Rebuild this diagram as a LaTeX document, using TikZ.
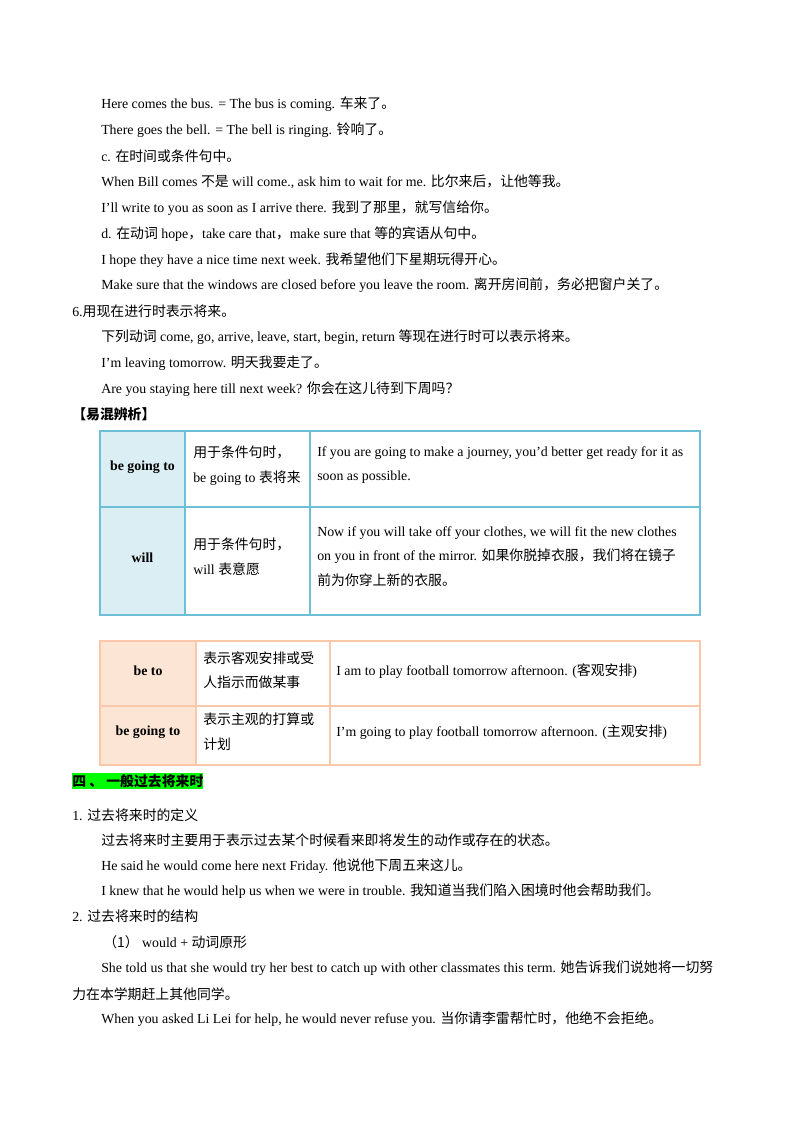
\documentclass[tikz,border=0pt]{standalone}
\usepackage{fontspec}
\setmainfont{Liberation Serif}
\newfontfamily\cjk{Noto Sans CJK SC}
\definecolor{blueline}{RGB}{110,190,215}
\definecolor{bluefill}{RGB}{219,238,243}
\definecolor{orangeline}{RGB}{250,200,168}
\definecolor{orangefill}{RGB}{252,229,213}
\definecolor{hl}{RGB}{0,255,0}
\begin{document}
\begin{tikzpicture}[x=0.75pt,y=-0.75pt,
    txt/.style={anchor=west,inner sep=0pt,font=\fontsize{10.4}{12}\selectfont},
    cell/.style={anchor=north west,inner sep=0pt,align=flush left,
      font=\fontsize{10.4}{18.5}\selectfont},
    head/.style={inner sep=0pt,font=\fontsize{10.4}{12}\selectfont\bfseries}]
        %--- Page ---
        \useasboundingbox (0,0) rectangle (800,1132);
        %--- Lines above the tables ---
        \node [txt] (l1) at (101,104) {Here comes the bus. = The bus is coming. {\cjk 车来了。}};
        \node [txt] (l2) at (101,130) {There goes the bell. = The bell is ringing. {\cjk 铃响了。}};
        \node [txt] (l3) at (101,156) {c. {\cjk 在时间或条件句中。}};
        \node [txt] (l4) at (101,182) {When Bill comes {\cjk 不是} will come., ask him to wait for me. {\cjk 比尔来后，让他等我。}};
        \node [txt] (l5) at (101,208) {I'll write to you as soon as I arrive there. {\cjk 我到了那里，就写信给你。}};
        \node [txt] (l6) at (101,234) {d. {\cjk 在动词} hope{\cjk ，}take care that{\cjk ，}make sure that {\cjk 等的宾语从句中。}};
        \node [txt] (l7) at (101,260) {I hope they have a nice time next week. {\cjk 我希望他们下星期玩得开心。}};
        \node [txt] (l8) at (101,285) {Make sure that the windows are closed before you leave the room. {\cjk 离开房间前，务必把窗户关了。}};
        \node [txt] (l9) at (72,311) {6.{\cjk 用现在进行时表示将来。}};
        \node [txt] (l10) at (101,337) {{\cjk 下列动词} come, go, arrive, leave, start, begin, return {\cjk 等现在进行时可以表示将来。}};
        \node [txt] (l11) at (101,363) {I'm leaving tomorrow. {\cjk 明天我要走了。}};
        \node [txt] (l12) at (101,389) {Are you staying here till next week? {\cjk 你会在这儿待到下周吗？}};
        \node [txt] (l13) at (72,414) {{\cjk\bfseries 【易混辨析】}};
        %--- Blue table ---
        \draw [blueline,fill=bluefill,line width=1.5pt] (100,431) rectangle (185,615);
        \draw [blueline,line width=1.5pt] (100,431) rectangle (700,615);
        \draw [blueline,line width=1.5pt] (100,507) -- (700,507);
        \draw [blueline,line width=1pt] (185,431) -- (185,615) (310,431) -- (310,615);
        \node [head] (b1) at (142.5,467) {be going to};
        \node [head] (b2) at (142.5,558) {will};
        \node [cell,text width=112pt] (b3) at (193,446) {{\cjk 用于条件句时，}\\be going to {\cjk 表将来}};
        \node [cell,text width=112pt] (b4) at (193,538) {{\cjk 用于条件句时，}\\will {\cjk 表意愿}};
        \node [cell,text width=282pt] (b5) at (317,446) {If you are going to make a journey, you'd better get ready for it as\\soon as possible.};
        \node [cell,text width=282pt] (b6) at (317,526) {Now if you will take off your clothes, we will fit the new clothes\\on you in front of the mirror. {\cjk 如果你脱掉衣服，我们将在镜子}\\{\cjk 前为你穿上新的衣服。}};
        %--- Orange table ---
        \draw [orangeline,fill=orangefill,line width=1.5pt] (100,641) rectangle (196,765);
        \draw [orangeline,line width=1.5pt] (100,641) rectangle (700,765);
        \draw [orangeline,line width=1.5pt] (100,706) -- (700,706);
        \draw [orangeline,line width=1pt] (196,641) -- (196,765) (330,641) -- (330,765);
        \node [head] (o1) at (148,671) {be to};
        \node [head] (o2) at (148,732) {be going to};
        \node [cell,text width=100pt] (o3) at (203,651) {{\cjk 表示客观安排或受}\\{\cjk 人指示而做某事}};
        \node [cell,text width=100pt] (o4) at (203,713) {{\cjk 表示主观的打算或}\\{\cjk 计划}};
        \node [txt] (o5) at (336,671) {I am to play football tomorrow afternoon. ({\cjk 客观安排})};
        \node [txt] (o6) at (336,732) {I'm going to play football tomorrow afternoon. ({\cjk 主观安排})};
        %--- Lines below the tables ---
        \node [txt,fill=hl,inner ysep=1pt] (l14) at (72,781) {{\cjk\bfseries 四 、 一般过去将来时}};
        \node [txt] (l15) at (72,815) {1. {\cjk 过去将来时的定义}};
        \node [txt] (l16) at (101,840) {{\cjk 过去将来时主要用于表示过去某个时候看来即将发生的动作或存在的状态。}};
        \node [txt] (l17) at (101,866) {He said he would come here next Friday. {\cjk 他说他下周五来这儿。}};
        \node [txt] (l18) at (101,891) {I knew that he would help us when we were in trouble. {\cjk 我知道当我们陷入困境时他会帮助我们。}};
        \node [txt] (l19) at (72,916) {2. {\cjk 过去将来时的结构}};
        \node [txt] (l20) at (103,942) {{\cjk （1）} would + {\cjk 动词原形}};
        \node [txt] (l21) at (101,968) {She told us that she would try her best to catch up with other classmates this term. {\cjk 她告诉我们说她将一切努}};
        \node [txt] (l22) at (72,994) {{\cjk 力在本学期赶上其他同学。}};
        \node [txt] (l23) at (101,1019) {When you asked Li Lei for help, he would never refuse you. {\cjk 当你请李雷帮忙时，他绝不会拒绝。}};
\end{tikzpicture}
\end{document}
